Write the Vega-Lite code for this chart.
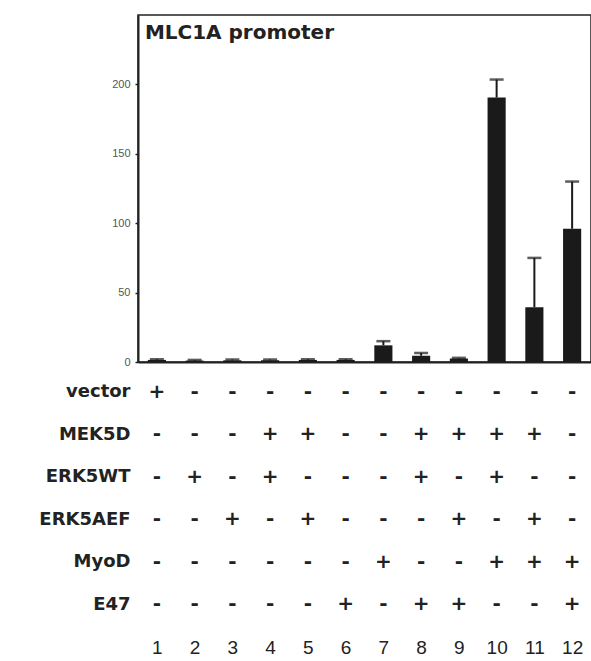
{
  "$schema": "https://vega.github.io/schema/vega-lite/v6.json",
  "padding": {"left": 38, "top": 14, "right": 2, "bottom": 0},
  "background": "white",
  "spacing": 2,
  "config": {
    "view": {"stroke": "#222", "strokeWidth": 1.5},
    "axis": {"grid": false}
  },
  "vconcat": [
    {
      "width": 453,
      "height": 347,
      "data": {"values": [
        {"lane": 1, "value": 1.5, "hi": 2.0},
        {"lane": 2, "value": 1.0, "hi": 1.5},
        {"lane": 3, "value": 1.2, "hi": 1.8},
        {"lane": 4, "value": 1.2, "hi": 1.8},
        {"lane": 5, "value": 1.5, "hi": 2.0},
        {"lane": 6, "value": 1.5, "hi": 2.0},
        {"lane": 7, "value": 12, "hi": 15},
        {"lane": 8, "value": 4.5, "hi": 6.5},
        {"lane": 9, "value": 2.5, "hi": 3},
        {"lane": 10, "value": 190.5, "hi": 203.5},
        {"lane": 11, "value": 39.5, "hi": 75},
        {"lane": 12, "value": 96, "hi": 130}
      ]},
      "encoding": {
        "x": {"field": "lane", "type": "ordinal",
              "scale": {"paddingInner": 0.52, "paddingOuter": 0.26},
              "axis": {"labels": false, "ticks": false, "domain": true, "domainWidth": 2, "domainColor": "#222", "title": null}}
      },
      "layer": [
        {
          "mark": {"type": "rule", "color": "#1a1a1a", "strokeWidth": 2},
          "encoding": {
            "y": {"field": "value", "type": "quantitative"},
            "y2": {"field": "hi"}
          }
        },
        {
          "mark": {"type": "tick", "color": "#1a1a1a", "thickness": 2.5, "size": 14},
          "encoding": {
            "y": {"field": "hi", "type": "quantitative"}
          }
        },
        {
          "mark": {"type": "bar", "color": "#1a1a1a"},
          "encoding": {
            "y": {"field": "value", "type": "quantitative",
                  "scale": {"domain": [0, 250], "nice": false},
                  "axis": {"values": [0, 50, 100, 150, 200], "title": null,
                           "labelFont": "Liberation Sans", "labelFontSize": 11, "labelColor": "#555",
                           "tickSize": 3, "tickWidth": 1.5, "tickColor": "#222", "labelPadding": 5,
                           "domainWidth": 2, "domainColor": "#222"}}
          }
        },
        {
          "data": {"values": [{"label": "MLC1A promoter"}]},
          "mark": {"type": "text", "align": "left", "baseline": "top", "dx": -12, "dy": 8,
                   "font": "DejaVu Sans", "fontWeight": "bold", "fontSize": 20, "color": "#222"},
          "encoding": {
            "x": {"datum": 1, "type": "ordinal"},
            "y": {"datum": 250, "type": "quantitative"},
            "text": {"field": "label"}
          }
        }
      ]
    },
    {
      "width": 453,
      "height": 256,
      "view": {"stroke": null},
      "data": {"values": [
        {"lane": 1, "vector": "+", "MEK5D": "-", "ERK5WT": "-", "ERK5AEF": "-", "MyoD": "-", "E47": "-"},
        {"lane": 2, "vector": "-", "MEK5D": "-", "ERK5WT": "+", "ERK5AEF": "-", "MyoD": "-", "E47": "-"},
        {"lane": 3, "vector": "-", "MEK5D": "-", "ERK5WT": "-", "ERK5AEF": "+", "MyoD": "-", "E47": "-"},
        {"lane": 4, "vector": "-", "MEK5D": "+", "ERK5WT": "+", "ERK5AEF": "-", "MyoD": "-", "E47": "-"},
        {"lane": 5, "vector": "-", "MEK5D": "+", "ERK5WT": "-", "ERK5AEF": "+", "MyoD": "-", "E47": "-"},
        {"lane": 6, "vector": "-", "MEK5D": "-", "ERK5WT": "-", "ERK5AEF": "-", "MyoD": "-", "E47": "+"},
        {"lane": 7, "vector": "-", "MEK5D": "-", "ERK5WT": "-", "ERK5AEF": "-", "MyoD": "+", "E47": "-"},
        {"lane": 8, "vector": "-", "MEK5D": "+", "ERK5WT": "+", "ERK5AEF": "-", "MyoD": "-", "E47": "+"},
        {"lane": 9, "vector": "-", "MEK5D": "+", "ERK5WT": "-", "ERK5AEF": "+", "MyoD": "-", "E47": "+"},
        {"lane": 10, "vector": "-", "MEK5D": "+", "ERK5WT": "+", "ERK5AEF": "-", "MyoD": "+", "E47": "-"},
        {"lane": 11, "vector": "-", "MEK5D": "+", "ERK5WT": "-", "ERK5AEF": "+", "MyoD": "+", "E47": "-"},
        {"lane": 12, "vector": "-", "MEK5D": "-", "ERK5WT": "-", "ERK5AEF": "-", "MyoD": "+", "E47": "+"}
      ]},
      "transform": [
        {"fold": ["vector", "MEK5D", "ERK5WT", "ERK5AEF", "MyoD", "E47"], "as": ["construct", "sign"]}
      ],
      "mark": {"type": "text", "font": "DejaVu Sans", "fontWeight": "bold", "fontSize": 20, "color": "#222", "baseline": "middle"},
      "encoding": {
        "x": {"field": "lane", "type": "ordinal",
              "scale": {"paddingInner": 0.52, "paddingOuter": 0.26},
              "axis": {"orient": "bottom", "domain": false, "ticks": false, "title": null, "labelAngle": 0,
                       "labelFont": "Liberation Sans", "labelFontSize": 19, "labelColor": "#222", "labelPadding": 12}},
        "y": {"field": "construct", "type": "nominal",
              "sort": ["vector", "MEK5D", "ERK5WT", "ERK5AEF", "MyoD", "E47"],
              "scale": {"type": "point", "padding": 0.505, "align": 0.5},
              "axis": {"title": null, "domain": false, "ticks": false, "labelPadding": 8,
                       "labelFont": "DejaVu Sans", "labelFontWeight": "bold", "labelFontSize": 18, "labelColor": "#222"}},
        "text": {"field": "sign"}
      }
    }
  ]
}
